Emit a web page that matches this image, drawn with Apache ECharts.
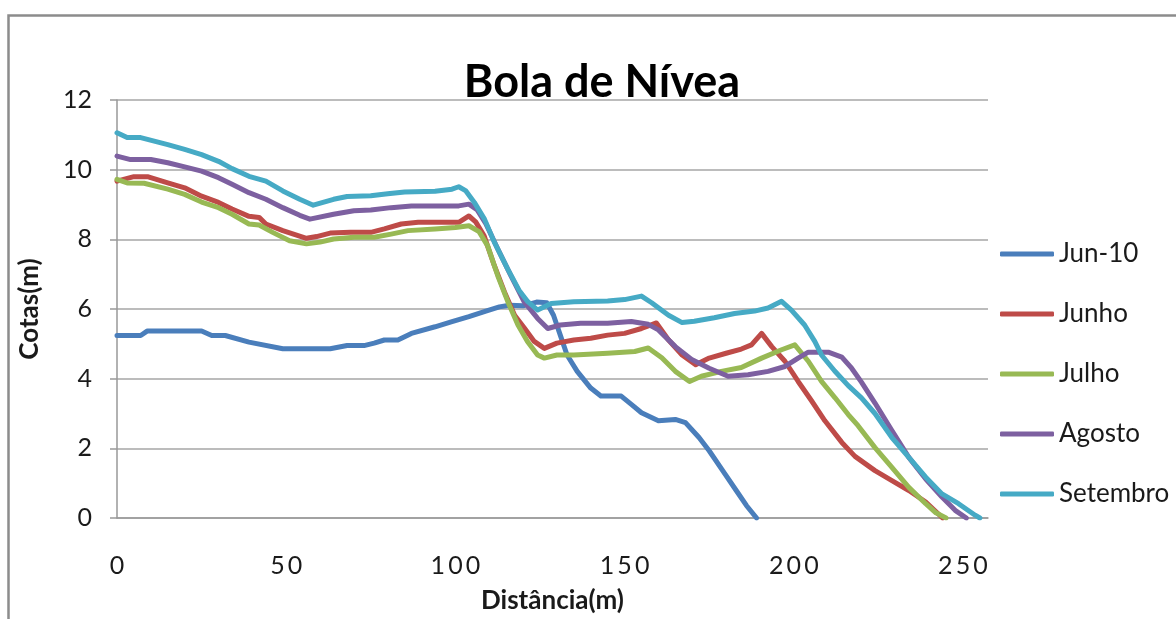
<!DOCTYPE html>
<html>
<head>
<meta charset="utf-8">
<script src="https://cdn.jsdelivr.net/npm/echarts@6/dist/echarts.min.js"></script>
<style>
html,body{margin:0;padding:0;background:#fff;}
#chart{width:1176px;height:619px;}
</style>
</head>
<body>
<div id="chart"></div>
<script>
// ---- data (distance in m, cota in m) ----
const seriesNames = ['Jun-10', 'Junho', 'Julho', 'Agosto', 'Setembro'];
const xTicks = [0, 50, 100, 150, 200, 250];
const yTicks = [0, 2, 4, 6, 8, 10, 12];

const jun10X = [0,7,9,25,28,32,39,49,63,68,73,76,79,83,87,94,99,104,109,113,116,120,124,127,129,131,133,136,140,143,149,152,155,160,165,168,172,175,179,183,186,189];
const jun10Y = [5.24,5.24,5.37,5.37,5.24,5.24,5.05,4.86,4.86,4.95,4.95,5.02,5.11,5.11,5.3,5.49,5.64,5.78,5.94,6.06,6.11,6.09,6.2,6.18,5.82,5.25,4.68,4.21,3.73,3.5,3.5,3.26,3.02,2.79,2.83,2.74,2.31,1.93,1.36,0.79,0.36,0];

const junhoX = [0,5,9,15,20,25,30,34,39,42,44,49,56,59,63,69,75,79,84,89,94,101,104,106,108.5,111.5,114.5,117.5,120.5,123.3,126.3,130,135,140,145,150,155,159.4,163,167,171,175,180,184.5,187.5,190.5,193.5,197.4,201.3,205.3,209.2,214.2,218.1,224,229,234,239,244];
const junhoY = [9.67,9.8,9.8,9.62,9.48,9.24,9.06,8.87,8.66,8.63,8.44,8.25,8.03,8.08,8.18,8.2,8.2,8.3,8.44,8.49,8.49,8.49,8.67,8.5,8.1,7.25,6.49,5.82,5.44,5.07,4.87,5.02,5.11,5.16,5.25,5.3,5.44,5.6,5.11,4.68,4.4,4.59,4.73,4.85,4.97,5.3,4.92,4.5,3.92,3.36,2.79,2.17,1.77,1.36,1.07,0.79,0.46,0];

const julhoX = [0,3,8,15,20,25,30,34,39,42,46,51,56,60,64,70,76,81,86,94,100,104,107,109.5,112.5,115.5,118.5,121.3,124.3,126.3,130,135,145,153,157,161,165,169.2,172.7,178.6,184.5,190.5,196.4,200.3,204.3,208.2,212.2,216.1,219,224,229,234,239,242,245];
const julhoY = [9.72,9.62,9.61,9.44,9.29,9.07,8.91,8.72,8.44,8.41,8.2,7.96,7.87,7.92,8.01,8.06,8.06,8.15,8.25,8.3,8.34,8.39,8.22,7.82,6.96,6.21,5.54,5.07,4.68,4.59,4.68,4.68,4.73,4.78,4.88,4.6,4.21,3.92,4.07,4.21,4.32,4.59,4.83,4.97,4.5,3.92,3.45,2.97,2.65,2.02,1.45,0.88,0.41,0.15,0];

const agostoX = [0,4,10,15,20,25,30,34,39,44,49,54,57,64,70,75,81,87,94,101,104,106.5,109,112.5,116.4,120.3,124.3,127.3,131,137,145,152,157,160,165,170,175,180.6,186.5,192.4,197.4,201.3,204.3,210.2,214.2,217.1,220,224,229,234,239,243.8,247.7,251];
const agostoY = [10.39,10.29,10.29,10.2,10.08,9.96,9.77,9.58,9.34,9.15,8.91,8.69,8.58,8.72,8.82,8.84,8.91,8.96,8.96,8.96,9.01,8.84,8.45,7.73,6.96,6.21,5.73,5.44,5.54,5.59,5.59,5.64,5.56,5.4,4.92,4.54,4.3,4.07,4.11,4.21,4.35,4.59,4.76,4.76,4.62,4.3,3.9,3.3,2.51,1.74,1.12,0.6,0.22,0];

const setembroX = [0,3,7,15,20,25,30,34,39,44,49,54,58,64,68,75,80,85,94,99,101,103,105.6,108.6,111.5,115.4,118.8,121.4,124.3,128.3,135,145,150,155,158,163,167,170.6,176.5,182.5,188.4,192.4,196.4,199.3,203.2,206.2,208.2,212.1,216.1,220,224,229,234,239,243.8,248.7,253.6,255];
const setembroY = [11.06,10.92,10.92,10.72,10.58,10.43,10.24,10.03,9.81,9.67,9.39,9.15,8.98,9.15,9.23,9.25,9.31,9.36,9.38,9.44,9.51,9.4,9.06,8.58,7.92,7.16,6.54,6.21,5.97,6.16,6.21,6.23,6.27,6.37,6.18,5.82,5.61,5.65,5.75,5.87,5.94,6.03,6.22,5.97,5.54,5.07,4.68,4.22,3.8,3.45,3.0,2.31,1.74,1.17,0.69,0.41,0.08,0];

const colors = ['#4A7EBB', '#BE4B48', '#98B954', '#7D60A0', '#46AAC5'];
const allX = [jun10X, junhoX, julhoX, agostoX, setembroX];
const allY = [jun10Y, junhoY, julhoY, agostoY, setembroY];

const FONT = 'Lato, "Liberation Sans", sans-serif';

function pairs(xs, ys) { return xs.map((x, i) => [x, ys[i]]); }

const chart = echarts.init(document.getElementById('chart'), null, {renderer: 'canvas'});
chart.setOption({
  backgroundColor: '#ffffff',
  animation: false,
  textStyle: {fontFamily: FONT},
  title: {
    text: 'Bola de Nívea',
    left: 597, top: 55, textAlign: 'center',
    textStyle: {fontFamily: FONT, fontSize: 45, fontWeight: 'bold', color: '#000'}
  },
  graphic: [{
    type: 'rect', silent: true,
    shape: {x: 8.5, y: 15.5, width: 1300, height: 800},
    style: {fill: 'none', stroke: '#8c8c8c', lineWidth: 2.5}
  }],
  grid: {left: 117, right: 188, top: 100, bottom: 98, containLabel: false},
  legend: {
    orient: 'vertical', left: 995, top: 234,
    itemWidth: 54, itemHeight: 5, itemGap: 30,
    icon: 'roundRect',
    data: seriesNames,
    textStyle: {fontFamily: FONT, fontSize: 26, color: '#1a1a1a', lineHeight: 30, padding: [0,0,0,0]}
  },
  xAxis: {
    type: 'value', min: 0, max: 257.4, interval: 50,
    name: 'Distância(m)', nameLocation: 'middle', nameGap: 70,
    nameTextStyle: {fontFamily: FONT, fontSize: 26, fontWeight: 'bold', color: '#1a1a1a'},
    axisLine: {show: true, lineStyle: {color: '#999', width: 1.5}},
    axisTick: {show: false},
    splitLine: {show: false},
    axisLabel: {
      margin: 35, fontFamily: FONT, fontSize: 25, color: '#1a1a1a',
      showMaxLabel: false,
      formatter: v => (xTicks.indexOf(v) >= 0 ? String(v).split('').join('\u2009') : '')
    }
  },
  yAxis: {
    type: 'value', min: 0, max: 12, interval: 2,
    name: 'Cotas(m)', nameLocation: 'middle', nameGap: 74, nameRotate: 90,
    nameTextStyle: {fontFamily: FONT, fontSize: 26, fontWeight: 'bold', color: '#1a1a1a'},
    axisLine: {show: true, lineStyle: {color: '#999', width: 1.5}},
    axisTick: {show: true, length: 7, lineStyle: {color: '#999', width: 1.5}},
    splitLine: {show: true, lineStyle: {color: '#a6a6a6', width: 1.5}},
    axisLabel: {
      margin: 25, fontFamily: FONT, fontSize: 25, color: '#1a1a1a',
      formatter: v => (yTicks.indexOf(v) >= 0 ? String(v) : '')
    }
  },
  series: seriesNames.map((name, i) => ({
    name: name,
    type: 'line',
    data: pairs(allX[i], allY[i]),
    showSymbol: false,
    symbol: 'none',
    smooth: false,
    color: colors[i],
    lineStyle: {color: colors[i], width: 5, cap: 'round', join: 'round'},
    z: 2 + i
  }))
});
</script>
</body>
</html>
